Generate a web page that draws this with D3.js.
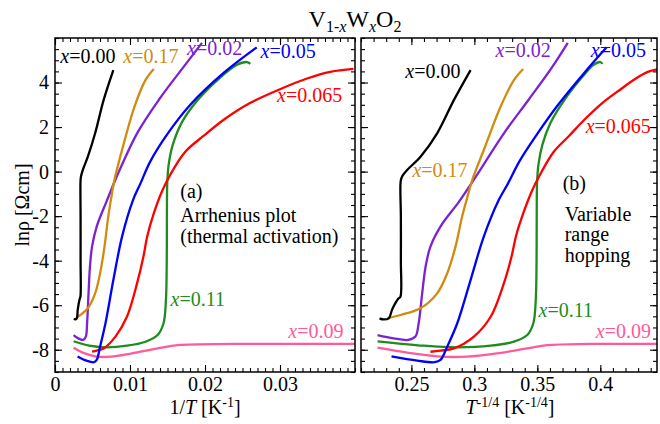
<!DOCTYPE html>
<html>
<head>
<meta charset="utf-8">
<script src="https://cdn.jsdelivr.net/npm/d3@7"></script>
<style>
  body { margin: 0; background: #fff; }
  text { font-family: "Liberation Serif", "Times New Roman", serif; fill: #000; }
</style>
</head>
<body>
<div id="chart"></div>
<script>
// data: each curve as [1/T (K^-1), ln rho (Ohm cm)]
// the right panel uses T^-1/4 = (1/T)^(1/4) of the same points
var curveX000 = [[0.00255,-6.59],[0.00270,-6.64],[0.00290,-6.59],[0.00303,-6.21],[0.00317,-5.91],[0.00331,-5.69],[0.00339,-5.62],
  [0.00341,-4.0],[0.00341,-2.0],[0.00340,-0.45],[0.00346,-0.23],[0.00370,0.07],[0.00438,0.67],[0.00535,1.72],[0.00648,3.21],[0.00778,4.56]];
var curveX017 = [[0.00283,-6.59],[0.00339,-6.44],[0.00438,-6.14],[0.00535,-5.47],[0.00601,-4.57],[0.00660,-3.37],[0.00710,-2.02],
  [0.00745,-1.28],[0.00792,-0.38],[0.00894,0.97],[0.01059,2.91],[0.01206,4.11],[0.01317,4.61]];
var curveX002 = [[0.00248,-7.34],[0.00310,-7.49],[0.00375,-7.56],[0.00411,-7.41],[0.00428,-6.81],[0.00447,-5.47],[0.00466,-4.27],
  [0.00494,-3.37],[0.00556,-2.47],[0.00685,-1.36],[0.00820,-0.25],[0.01100,1.75],[0.01390,3.25],[0.01710,4.68],[0.01960,5.78]];
var curveX005 = [[0.00301,-8.30],[0.00420,-8.49],[0.00520,-8.56],[0.00556,-8.46],[0.00601,-7.86],[0.00673,-6.81],[0.00778,-4.87],
  [0.00894,-2.92],[0.01040,-1.28],[0.01137,-0.55],[0.01271,0.46],[0.01493,1.66],[0.01804,3.0],[0.02248,4.43],[0.02690,5.58]];
var curveX011 = [[0.00248,-7.62],[0.00456,-7.82],[0.00673,-7.89],[0.00959,-7.82],[0.01206,-7.64],[0.01368,-7.34],[0.01447,-6.81],
  [0.01479,-5.77],[0.01490,-4.0],[0.01492,-2.1],[0.01497,-0.5],[0.01515,0.3],[0.01570,1.2],[0.01690,2.2],[0.01900,3.2],
  [0.02195,4.2],[0.02427,4.8],[0.02560,4.92],[0.02604,4.84]];
var curveX0065 = [[0.00494,-8.09],[0.00556,-8.04],[0.00648,-7.94],[0.00806,-7.41],[0.00959,-6.52],[0.01094,-5.02],[0.01180,-3.8],
  [0.01230,-2.9],[0.01315,-1.9],[0.01427,-0.88],[0.01537,-0.14],[0.01740,0.90],[0.01980,1.60],[0.02250,2.33],[0.02600,3.08],
  [0.03000,3.70],[0.03360,4.18],[0.03670,4.48],[0.03980,4.61]];
var curveX009 = [[0.00248,-7.91],[0.00370,-8.13],[0.00556,-8.31],[0.00750,-8.31],[0.01025,-8.16],[0.01368,-7.94],[0.01643,-7.79],
  [0.02371,-7.74],[0.04100,-7.74]];

var yTicks = [-8, -6, -4, -2, 0, 2, 4];
var xTicksA = [0, 0.01, 0.02, 0.03];
var xTicksB = [0.25, 0.3, 0.35, 0.4];

var series = [
  { name: "0.09", pts: curveX009, color: "#ff5a9b" },
  { name: "0.11", pts: curveX011, color: "#1e8c1e" },
  { name: "0.065", pts: curveX0065, color: "#ff0000" },
  { name: "0.05", pts: curveX005, color: "#0000ff" },
  { name: "0.02", pts: curveX002, color: "#7b22d4" },
  { name: "0.17", pts: curveX017, color: "#d08c10" },
  { name: "0.00", pts: curveX000, color: "#000000" }
];
var colorOf = {};
series.forEach(function (s) { colorOf[s.name] = s.color; });

var W = 660, H = 424;
var plotTop = 38, plotBottom = 372;
var svg = d3.select("#chart").append("svg").attr("width", W).attr("height", H);

var y = d3.scaleLinear().domain([-9, 6]).range([plotBottom, plotTop]);
var xA = d3.scaleLinear().domain([0, 0.04]).range([55, 355]);
var xB = d3.scaleLinear().domain([0.21, 0.445]).range([361, 657]);

//画一个面板
function drawPanel(id, x, fx, minorX, majorX, fmtX, showYLabels) {
  var x0 = x.range()[0], x1 = x.range()[1];
  var g = svg.append("g");
  svg.append("clipPath").attr("id", id).append("rect")
    .attr("x", x0).attr("y", plotTop).attr("width", x1 - x0).attr("height", plotBottom - plotTop);

  var line = d3.line()
    .x(function (d) { return x(fx(d[0])); })
    .y(function (d) { return y(d[1]); })
    .curve(d3.curveCatmullRom.alpha(0.5));

  g.append("g").attr("clip-path", "url(#" + id + ")")
    .selectAll("path").data(series).enter().append("path")
    .attr("d", function (s) { return line(s.pts); })
    .attr("fill", "none")
    .attr("stroke", function (s) { return s.color; })
    .attr("stroke-width", 2.3)
    .attr("stroke-linejoin", "round");

  var minorY = d3.range(-9, 6.01, 0.5);
  var axes = [
    [d3.axisBottom(x).tickValues(minorX).tickSize(-4).tickFormat(""), "translate(0," + plotBottom + ")"],
    [d3.axisTop(x).tickValues(minorX).tickSize(-4).tickFormat(""), "translate(0," + plotTop + ")"],
    [d3.axisTop(x).tickValues(majorX).tickSize(-7).tickFormat(""), "translate(0," + plotTop + ")"],
    [d3.axisLeft(y).tickValues(minorY).tickSize(-4).tickFormat(""), "translate(" + x0 + ",0)"],
    [d3.axisRight(y).tickValues(minorY).tickSize(-4).tickFormat(""), "translate(" + x1 + ",0)"],
    [d3.axisRight(y).tickValues(yTicks).tickSize(-7).tickFormat(""), "translate(" + x1 + ",0)"],
    [d3.axisBottom(x).tickValues(majorX).tickSizeInner(-7).tickSizeOuter(0).tickPadding(5).tickFormat(fmtX), "translate(0," + plotBottom + ")"],
    [d3.axisLeft(y).tickValues(yTicks).tickSizeInner(-7).tickSizeOuter(0).tickPadding(6)
      .tickFormat(showYLabels ? function (d) { return String(d); } : ""), "translate(" + x0 + ",0)"]
  ];
  axes.forEach(function (a) {
    var ax = g.append("g").attr("transform", a[1]).call(a[0]);
    ax.select(".domain").remove();
    ax.selectAll("line").attr("stroke", "#000").attr("stroke-width", 1.1);
    ax.selectAll("text").attr("font-size", 20).attr("font-family", "Liberation Serif").attr("fill", "#000");
  });

  g.append("rect").attr("x", x0).attr("y", plotTop).attr("width", x1 - x0).attr("height", plotBottom - plotTop)
    .attr("fill", "none").attr("stroke", "#000").attr("stroke-width", 1.5);
  return g;
}

function identity(u) { return u; }
function quarter(u) { return Math.pow(u, 0.25); }

var gA = drawPanel("clipA", xA, identity, d3.range(0, 0.04005, 0.001), xTicksA, function (d) { return String(d); }, true);
var gB = drawPanel("clipB", xB, quarter, d3.range(0.21, 0.4451, 0.01), xTicksB, function (d) { return String(d); }, false);

// 曲线标签
function seriesLabel(g, x, xv, yv, name) {
  var t = g.append("text").attr("x", x(xv)).attr("y", y(yv)).attr("font-size", 20).style("fill", colorOf[name]);
  t.append("tspan").attr("font-style", "italic").text("x");
  t.append("tspan").text("=" + name);
}
function note(g, x, xv, yv, str) {
  g.append("text").attr("x", x(xv)).attr("y", y(yv)).attr("font-size", 20).text(str);
}

seriesLabel(gA, xA, 0.0007, 4.88, "0.00");
seriesLabel(gA, xA, 0.0091, 4.88, "0.17");
seriesLabel(gA, xA, 0.0176, 5.24, "0.02");
seriesLabel(gA, xA, 0.0274, 5.10, "0.05");
seriesLabel(gA, xA, 0.0296, 3.13, "0.065");
seriesLabel(gA, xA, 0.0154, -6.03, "0.11");
seriesLabel(gA, xA, 0.0311, -7.47, "0.09");
note(gA, xA, 0.0167, -1.19, "(a)");
note(gA, xA, 0.0167, -2.26, "Arrhenius plot");
note(gA, xA, 0.0167, -3.21, "(thermal activation)");

seriesLabel(gB, xB, 0.2452, 4.20, "0.00");
seriesLabel(gB, xB, 0.3168, 5.15, "0.02");
seriesLabel(gB, xB, 0.3924, 5.15, "0.05");
seriesLabel(gB, xB, 0.3884, 1.73, "0.065");
seriesLabel(gB, xB, 0.2508, -0.24, "0.17");
seriesLabel(gB, xB, 0.3510, -6.53, "0.11");
seriesLabel(gB, xB, 0.3964, -7.47, "0.09");
note(gB, xB, 0.3701, -0.83, "(b)");
note(gB, xB, 0.3717, -2.22, "Variable");
note(gB, xB, 0.3717, -3.12, "range");
note(gB, xB, 0.3717, -4.06, "hopping");

// 标题
var title = svg.append("text").attr("x", 355).attr("y", 27).attr("text-anchor", "middle").attr("font-size", 24);
title.append("tspan").text("V");
title.append("tspan").attr("font-size", 16).attr("dy", 5).text("1-");
title.append("tspan").attr("font-size", 16).attr("font-style", "italic").text("x");
title.append("tspan").attr("dy", -5).text("W");
title.append("tspan").attr("font-size", 16).attr("font-style", "italic").attr("dy", 5).text("x");
title.append("tspan").attr("dy", -5).text("O");
title.append("tspan").attr("font-size", 16).attr("dy", 5).text("2");

// 坐标轴标题
var tA = svg.append("text").attr("x", 205).attr("y", 414).attr("text-anchor", "middle").attr("font-size", 20);
tA.append("tspan").text("1/");
tA.append("tspan").attr("font-style", "italic").text("T");
tA.append("tspan").text(" [K");
tA.append("tspan").attr("font-size", 14).attr("dy", -7).text("-1");
tA.append("tspan").attr("dy", 7).text("]");

var tB = svg.append("text").attr("x", 510).attr("y", 414).attr("text-anchor", "middle").attr("font-size", 20);
tB.append("tspan").attr("font-style", "italic").text("T");
tB.append("tspan").attr("font-size", 14).attr("dy", -7).text("-1/4");
tB.append("tspan").attr("dy", 7).text(" [K");
tB.append("tspan").attr("font-size", 14).attr("dy", -7).text("-1/4");
tB.append("tspan").attr("dy", 7).text("]");

svg.append("text").attr("transform", "translate(29,205) rotate(-90)")
  .attr("text-anchor", "middle").attr("font-size", 20).text("lnρ [Ωcm]");
</script>
</body>
</html>
